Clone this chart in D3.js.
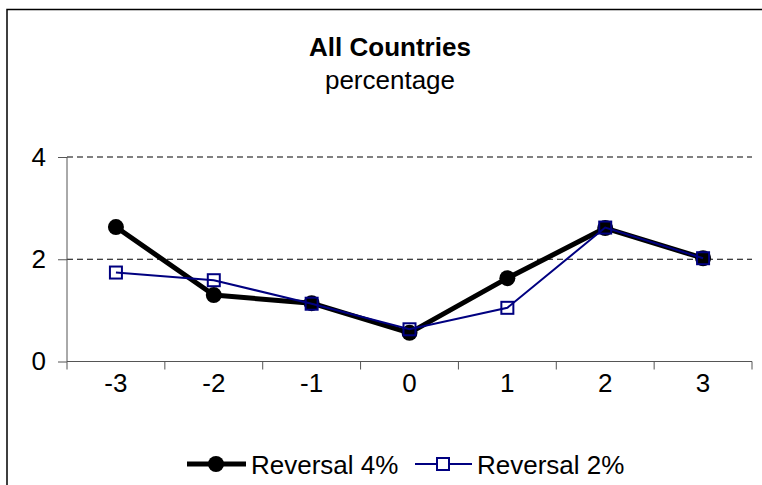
<!DOCTYPE html>
<html><head><meta charset="utf-8">
<script src="https://cdn.jsdelivr.net/npm/d3@7"></script>
<style>body{margin:0;background:#fff}svg{display:block;font-family:"Liberation Sans",Arial,sans-serif}</style>
</head><body><svg id="c" width="762" height="485"></svg>
<script>
const categories = ["-3","-2","-1","0","1","2","3"];
const reversal4 = [2.63, 1.30, 1.14, 0.56, 1.63, 2.61, 2.02];
const reversal2 = [1.74, 1.59, 1.13, 0.63, 1.05, 2.62, 2.02];
const yTicks = [0, 2, 4];
const seriesNames = ["Reversal 4%", "Reversal 2%"];

const FS = 26;
const svg = d3.select("#c");
const L = 67, R = 752, T = 157, B = 361.5;
const x = d3.scaleBand().domain(categories).range([L, R]);
const y = d3.scaleLinear().domain([0, 4]).range([B, T]);

// outer border
svg.append("rect").attr("x", 7).attr("y", 9.5).attr("width", 800).attr("height", 500)
  .attr("fill", "none").attr("stroke", "#000").attr("stroke-width", 1.5);

// title
svg.append("text").attr("x", 390).attr("y", 56).attr("text-anchor", "middle")
  .attr("font-weight", "bold").attr("font-size", FS).text("All Countries");
svg.append("text").attr("x", 390).attr("y", 89).attr("text-anchor", "middle")
  .attr("font-size", FS).text("percentage");

// gridlines
svg.append("g").selectAll("line").data(yTicks.filter(d => d > 0)).join("line")
  .attr("x1", L).attr("x2", R).attr("y1", d => y(d)).attr("y2", d => y(d))
  .attr("stroke", "#000").attr("stroke-dasharray", "6,4").attr("stroke-width", 1);

// y axis
const yAxis = svg.append("g").attr("transform", `translate(${L},0)`)
  .call(d3.axisLeft(y).tickValues(yTicks).tickSize(9).tickPadding(12).tickFormat(d3.format("d")));
yAxis.select(".domain").attr("stroke", "#555").attr("d", `M0,${B}V${T}`);
yAxis.selectAll(".tick line").attr("stroke", "#555");
yAxis.selectAll("text").attr("font-size", FS).attr("fill", "#000").attr("font-family", "Liberation Sans, Arial, sans-serif");

// x axis
const xAxis = svg.append("g").attr("transform", `translate(0,${B})`)
  .call(d3.axisBottom(x).tickSize(0).tickPadding(12));
xAxis.select(".domain").attr("stroke", "#555").attr("d", `M${L},0H${R}`);
xAxis.selectAll("text").attr("font-size", FS).attr("fill", "#000").attr("font-family", "Liberation Sans, Arial, sans-serif");
// category boundary ticks
svg.append("g").selectAll("line").data(categories.concat(["end"])).join("line")
  .attr("x1", (d, i) => L + i * x.step()).attr("x2", (d, i) => L + i * x.step())
  .attr("y1", B).attr("y2", B + 8).attr("stroke", "#555");

const cx = (d, i) => x(categories[i]) + x.bandwidth() / 2;
const line = d3.line().x(cx).y(d => y(d));

// series 4%
svg.append("path").datum(reversal4).attr("d", line).attr("fill", "none")
  .attr("stroke", "#000").attr("stroke-width", 5).attr("stroke-linejoin", "round");
svg.append("g").selectAll("circle").data(reversal4).join("circle")
  .attr("cx", cx).attr("cy", d => y(d)).attr("r", 8).attr("fill", "#000");

// series 2%
svg.append("path").datum(reversal2).attr("d", line).attr("fill", "none")
  .attr("stroke", "#000080").attr("stroke-width", 2);
svg.append("g").selectAll("rect").data(reversal2).join("rect")
  .attr("x", (d, i) => cx(d, i) - 6).attr("y", d => y(d) - 6).attr("width", 12).attr("height", 12)
  .attr("fill", "none").attr("stroke", "#000080").attr("stroke-width", 2);

// legend
const lg = svg.append("g");
const ly = 464;
lg.append("line").attr("x1", 187).attr("x2", 246).attr("y1", ly).attr("y2", ly).attr("stroke", "#000").attr("stroke-width", 5);
lg.append("circle").attr("cx", 216).attr("cy", ly).attr("r", 8).attr("fill", "#000");
lg.append("text").attr("x", 251).attr("y", ly + 10).attr("font-size", FS).text(seriesNames[0]);
lg.append("line").attr("x1", 415).attr("x2", 472).attr("y1", ly).attr("y2", ly).attr("stroke", "#000080").attr("stroke-width", 2);
lg.append("rect").attr("x", 437).attr("y", ly - 6).attr("width", 12).attr("height", 12).attr("fill", "#fff").attr("stroke", "#000080").attr("stroke-width", 2);
lg.append("text").attr("x", 477).attr("y", ly + 10).attr("font-size", FS).text(seriesNames[1]);
</script></body></html>
